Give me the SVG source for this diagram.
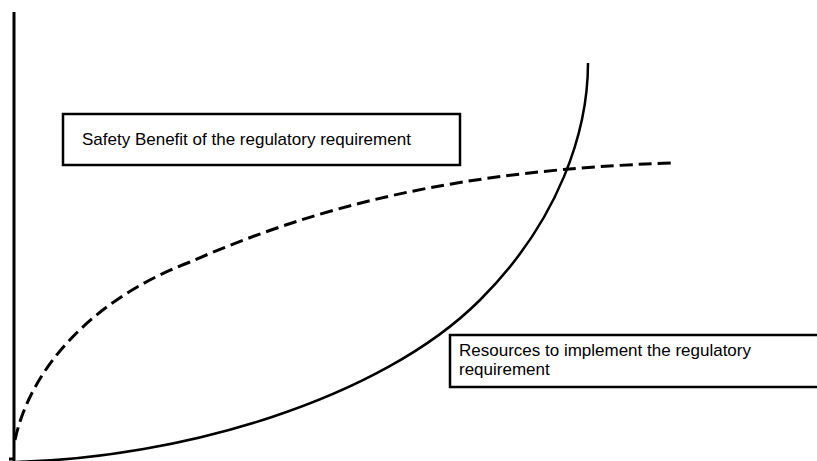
<svg xmlns="http://www.w3.org/2000/svg" width="817" height="461" viewBox="0 0 817 461">
<style>
.box{fill:#fff;stroke:#000;stroke-width:2.5}
.lbl{font-family:"Liberation Sans",Arial,sans-serif;font-size:17px;fill:#000}
.curve{fill:none;stroke:#000;stroke-width:2.5}
.dash{fill:none;stroke:#000;stroke-width:3;stroke-dasharray:13,6}
.axis{stroke:#000;stroke-width:3}
</style>
<rect width="817" height="461" fill="#fff"/>
<g id="axes">
<line class="axis" x1="14" y1="12" x2="14" y2="461"/>
<line class="axis" x1="9" y1="459" x2="14" y2="459" stroke-width="2"/>
</g>
<g id="connectors">
<path class="dash" d="M15,440 C30,370 90,300 190,262 C320,205 460,170 672,163"/>
<path class="curve" d="M16,462 C180,458 380,400 480,300 C560,220 588,130 588,63"/>
</g>
<g id="benefit">
<rect class="box" x="63" y="114" width="397" height="51"/>
<text class="lbl" x="82" y="145">Safety Benefit of the regulatory requirement</text>
</g>
<g id="resources">
<rect class="box" x="450" y="335" width="400" height="52"/>
<text class="lbl" x="459" y="356">Resources to implement the regulatory</text>
<text class="lbl" x="459" y="375">requirement</text>
</g>
</svg>
